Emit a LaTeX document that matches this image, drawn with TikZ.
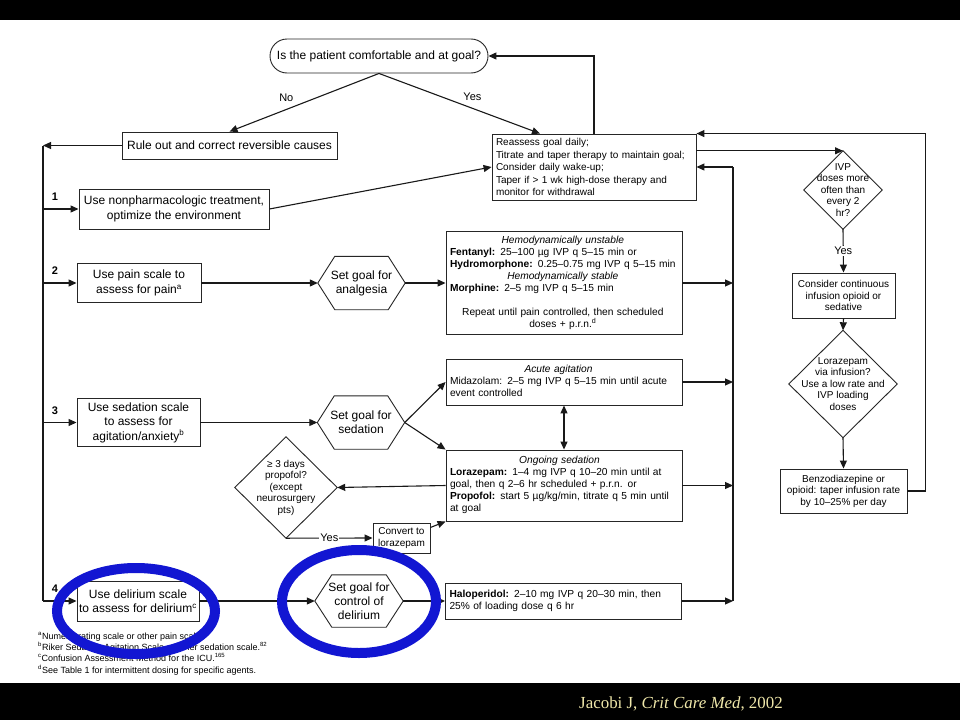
\documentclass[tikz,border=0pt]{standalone}
\usepackage{fontspec}
\setmainfont{Liberation Sans}
\newfontfamily\citefont{Liberation Serif}
\usetikzlibrary{arrows.meta}
\definecolor{markblue}{RGB}{18,22,210}
\definecolor{citeyellow}{RGB}{240,232,170}
\newcommand{\ctr}[1]{\multicolumn{1}{@{}c@{}}{#1}}

\begin{document}
\begin{tikzpicture}[x=1pt, y=-1pt,
    boxline/.style={draw=black!85, line width=0.9pt},
    conn/.style={draw=black!90, line width=1.1pt},
    arr/.style={conn, -{Triangle[length=8pt,width=7pt]}},
    box/.style={boxline, align=center, inner sep=2pt, font=\fontsize{12}{14.5}\selectfont},
    smallbox/.style={box, font=\fontsize{10}{11.5}\selectfont},
    drug/.style={boxline, text width=228pt, align=left, inner xsep=4pt, inner ysep=3pt, minimum height=36pt, font=\fontsize{10.2}{12}\selectfont},
    hexa/.style={inner sep=0pt, minimum width=87pt, minimum height=53pt, align=center, font=\fontsize{12}{14}\selectfont},
    query/.style={inner sep=0pt, align=center, font=\fontsize{10}{11.5}\selectfont},
    lbl/.style={inner sep=1pt, font=\fontsize{11}{13}\selectfont},
    num/.style={anchor=south, xshift=12pt, yshift=7pt, inner sep=1pt, font=\bfseries\fontsize{11}{13}\selectfont},
    fnote/.style={anchor=north west, align=left, inner sep=0pt, font=\fontsize{9}{11.3}\selectfont},
    ring/.style={draw=markblue, line width=10pt},
    citation/.style={text=citeyellow, inner sep=0pt, font=\citefont\fontsize{16.9}{19}\selectfont}
]
    \useasboundingbox (0,0) rectangle (960,720);
    \fill[white] (0,0) rectangle (960,720);
    \fill[black] (0,0) rectangle (960,20);
    \fill[black] (0,683) rectangle (960,720);

    % Top question
    \node[box, rounded corners=17pt, minimum width=218pt, minimum height=34pt] (Goal) at (379,56) {Is the patient comfortable and at goal?};
    \node[box, minimum width=215pt, minimum height=27pt] (Rule) at (229.5,145.5) {Rule out and correct reversible causes};
    \node[boxline, text width=196pt, align=left, inner xsep=4pt, inner ysep=3pt, minimum height=66pt, font=\fontsize{10}{12.5}\selectfont] (Reassess) at (594,167) {Reassess goal daily;\\Titrate and taper therapy to maintain goal;\\Consider daily wake-up;\\Taper if > 1 wk high-dose therapy and\\monitor for withdrawal};

    % Assessment steps
    \node[box, minimum width=190pt, minimum height=40pt] (Step-1) at (174,209) {Use nonpharmacologic treatment,\\optimize the environment};
    \node[box, minimum width=124pt, minimum height=39pt] (Step-2) at (139,283) {Use pain scale to\\assess for pain\textsuperscript{a}};
    \node[box, minimum width=123pt, minimum height=48pt] (Step-3) at (138.5,422.5) {Use sedation scale\\to assess for\\agitation/anxiety\textsuperscript{b}};
    \node[box, minimum width=122pt, minimum height=40pt] (Step-4) at (138,601) {Use delirium scale\\to assess for delirium\textsuperscript{c}};

    % Goals
    \node[hexa] (Analgesia) at (361.5,283) {Set goal for\\analgesia};
    \node[hexa] (Sedation) at (361,422.5) {Set goal for\\sedation};
    \node[hexa, minimum width=88pt, minimum height=52pt] (Delirium) at (359,601) {Set goal for\\control of\\delirium};

    % Drugs
    \node[drug, minimum height=102pt] (Fentanyl) at (564,283) {\begin{tabular}{@{}l@{}}
        \ctr{\textit{Hemodynamically unstable}}\\
        \textbf{Fentanyl:} 25--100 µg IVP q 5--15 min or\\
        \textbf{Hydromorphone:} 0.25--0.75 mg IVP q 5--15 min\\
        \ctr{\textit{Hemodynamically stable}}\\
        \textbf{Morphine:} 2--5 mg IVP q 5--15 min\\
        \\
        \ctr{Repeat until pain controlled, then scheduled}\\
        \ctr{doses + p.r.n.\textsuperscript{d}}
    \end{tabular}};
    \node[drug, minimum height=46pt] (Midazolam) at (564,382) {\begin{tabular}{@{}l@{}}
        \ctr{\textit{Acute agitation}}\\
        Midazolam: 2--5 mg IVP q 5--15 min until acute\\
        event controlled
    \end{tabular}};
    \node[drug, minimum height=71pt] (Lorazepam) at (564,485.5) {\begin{tabular}{@{}l@{}}
        \ctr{\textit{Ongoing sedation}}\\
        \textbf{Lorazepam:} 1--4 mg IVP q 10--20 min until at\\
        goal, then q 2--6 hr scheduled + p.r.n. or\\
        \textbf{Propofol:} start 5 µg/kg/min, titrate q 5 min until\\
        at goal
    \end{tabular}};
    \node[drug] (Haloperidol) at (563.5,601) {\textbf{Haloperidol:} 2--10 mg IVP q 20--30 min, then\\25\% of loading dose q 6 hr};

    % Propofol branch
    \node[query, minimum width=102pt, minimum height=101pt] (Propofol) at (286,487.5) {≥ 3 days\\propofol?\\(except\\neurosurgery\\pts)};
    \node[smallbox, minimum width=57pt, minimum height=30pt, inner sep=1pt] (Convert) at (401.5,538) {Convert to\\lorazepam};

    % Infusion column
    \node[query, minimum width=78pt, minimum height=78pt] (IVP) at (843,190) {IVP\\doses more\\often than\\every 2\\hr?};
    \node[smallbox, minimum width=103pt, minimum height=45pt] (Consider) at (843.5,295.5) {Consider continuous\\infusion opioid or\\sedative};
    \node[query, minimum width=108pt, minimum height=107pt] (Infusion) at (843,384) {Lorazepam\\via infusion?\\Use a low rate and\\IVP loading\\doses};
    \node[smallbox, minimum width=127pt, minimum height=44pt] (Benzo) at (843.5,491) {Benzodiazepine or\\opioid: taper infusion rate\\by 10--25\% per day};

    % Outlines
    \foreach \g in {Analgesia,Sedation,Delirium} {
        \draw[boxline] (\g.west) -- ([xshift=17pt]\g.north west) -- ([xshift=-17pt]\g.north east) -- (\g.east) -- ([xshift=-17pt]\g.south east) -- ([xshift=17pt]\g.south west) -- cycle;
    }
    \foreach \q in {Propofol,IVP,Infusion} {
        \draw[boxline] (\q.north) -- (\q.east) -- (\q.south) -- (\q.west) -- cycle;
    }

    % Arrows
    \coordinate (Spine-top) at (43,145.5);
    \coordinate (Return) at (733,167);
    \draw[arr] (Goal.south) -- node[lbl, pos=0.62, yshift=12pt] {No} (Rule.north);
    \draw[arr] (Goal.south) -- node[lbl, pos=0.58, yshift=12pt] {Yes} ([xshift=-54pt]Reassess.north);
    \draw[arr] (Rule.west) -- (Spine-top);
    \draw[conn] (Spine-top) -- (Spine-top |- Step-4.west);
    \foreach \i in {1,2,3,4} {
        \draw[arr] (Step-\i.west -| Spine-top) -- (Step-\i.west);
        \node[num] at (Step-\i.west -| Spine-top) {\i};
    }
    \draw[arr] (Step-1.east) -- (Reassess.west);
    \draw[arr] (Step-2.east) -- (Analgesia.west);
    \draw[arr] (Analgesia.east) -- (Fentanyl.west);
    \draw[arr] (Step-3.east) -- (Sedation.west);
    \draw[arr] (Sedation.east) -- (Midazolam.west);
    \draw[arr] (Sedation.east) -- (Lorazepam.north west);
    \draw[conn, {Triangle[length=8pt,width=7pt]}-{Triangle[length=8pt,width=7pt]}] (Midazolam.south) -- (Lorazepam.north);
    \draw[arr] (Lorazepam.west) -- (Propofol.east);
    \draw[arr] (Propofol.south) -- node[lbl, fill=white] {Yes} (Convert.west);
    \draw[arr] (Convert.20) -- (Lorazepam.south west);
    \draw[arr] (Step-4.east) -- (Delirium.west);
    \draw[arr] (Delirium.east) -- (Haloperidol.west);
    \foreach \d in {Fentanyl,Midazolam,Lorazepam,Haloperidol} {
        \draw[arr] (\d.east) -- (\d.east -| Return);
    }
    \draw[conn] (Haloperidol.east -| Return) -- (Return);
    \draw[arr] (Return) -- (Reassess.east |- Return);
    \draw[arr] (Reassess.north) |- (Goal.east);
    \draw[arr] (Reassess.east |- IVP.north) -- (IVP.north);
    \draw[arr] (IVP.south) -- node[lbl, fill=white] {Yes} (Consider.north);
    \draw[arr] (Consider.south) -- (Infusion.north);
    \draw[arr] (Infusion.south) -- (Benzo.north);
    \draw[arr] (Benzo.east) -- ++(18,0) |- (Reassess.north east);

    % Footnotes
    \node[fnote] (Notes) at (38,631) {\textsuperscript{a}Numeric rating scale or other pain scale.\textsuperscript{14}\\
        \textsuperscript{b}Riker Sedation-Agitation Scale or other sedation scale.\textsuperscript{82}\\
        \textsuperscript{c}Confusion Assessment Method for the ICU.\textsuperscript{165}\\
        \textsuperscript{d}See Table 1 for intermittent dosing for specific agents.};

    % Highlights
    \draw[ring] (136,611) ellipse [x radius=79, y radius=43];
    \draw[ring] (359,601.5) ellipse [x radius=77, y radius=51.5];

    \node[citation] (Source) at (681,704) {Jacobi J, \textit{Crit Care Med}, 2002};
\end{tikzpicture}
\end{document}
